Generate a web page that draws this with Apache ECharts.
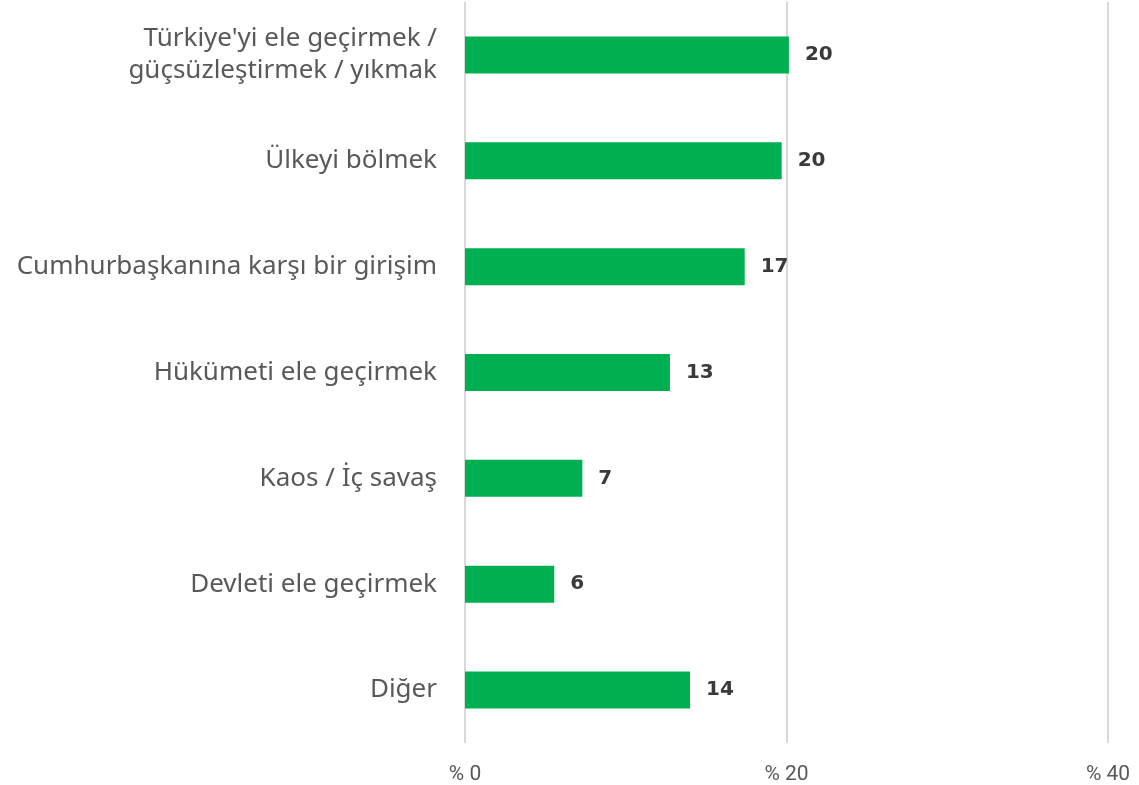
<!DOCTYPE html>
<html>
<head>
<meta charset="utf-8">
<script src="https://cdn.jsdelivr.net/npm/echarts@6/dist/echarts.min.js"></script>
<style>html,body{margin:0;padding:0;background:#fff}#c{width:1139px;height:785px}</style>
</head>
<body>
<div id="c"></div>
<script>
const categories = [
  "Türkiye'yi ele geçirmek /\ngüçsüzleştirmek / yıkmak",
  "Ülkeyi bölmek",
  "Cumhurbaşkanına karşı bir girişim",
  "Hükümeti ele geçirmek",
  "Kaos / İç savaş",
  "Devleti ele geçirmek",
  "Diğer"
];
const values = [20.15, 19.7, 17.4, 12.75, 7.3, 5.55, 14.0];
const tickLabels = {0: "% 0", 20: "% 20", 40: "% 40"};

const chart = echarts.init(document.getElementById('c'));
chart.setOption({
  animation: false,
  grid: {left: 465, right: 31, top: 2, bottom: 42},
  xAxis: {
    type: 'value', min: 0, max: 40, interval: 20,
    axisLine: {show: false}, axisTick: {show: false},
    splitLine: {lineStyle: {color: '#d9d9d9', width: 2}},
    axisLabel: {
      formatter: v => tickLabels[v] ?? ('% ' + v),
      color: '#595959', fontSize: 21, fontFamily: 'Roboto, sans-serif',
      margin: 21
    }
  },
  yAxis: {
    type: 'category', inverse: true, data: categories,
    axisLine: {show: false}, axisTick: {show: false},
    axisLabel: {
      color: '#595959', fontSize: 26, fontFamily: '"Noto Sans", sans-serif',
      margin: 28, lineHeight: 32, align: 'right'
    }
  },
  series: [{
    type: 'bar', data: values, barWidth: 37,
    itemStyle: {color: '#00B050'},
    label: {
      show: true, position: 'right', distance: 16,
      formatter: p => Math.round(p.value),
      color: '#3a3a3a', fontSize: 20, fontWeight: 'bold', fontFamily: '"DejaVu Sans", sans-serif'
    }
  }]
});
</script>
</body>
</html>
